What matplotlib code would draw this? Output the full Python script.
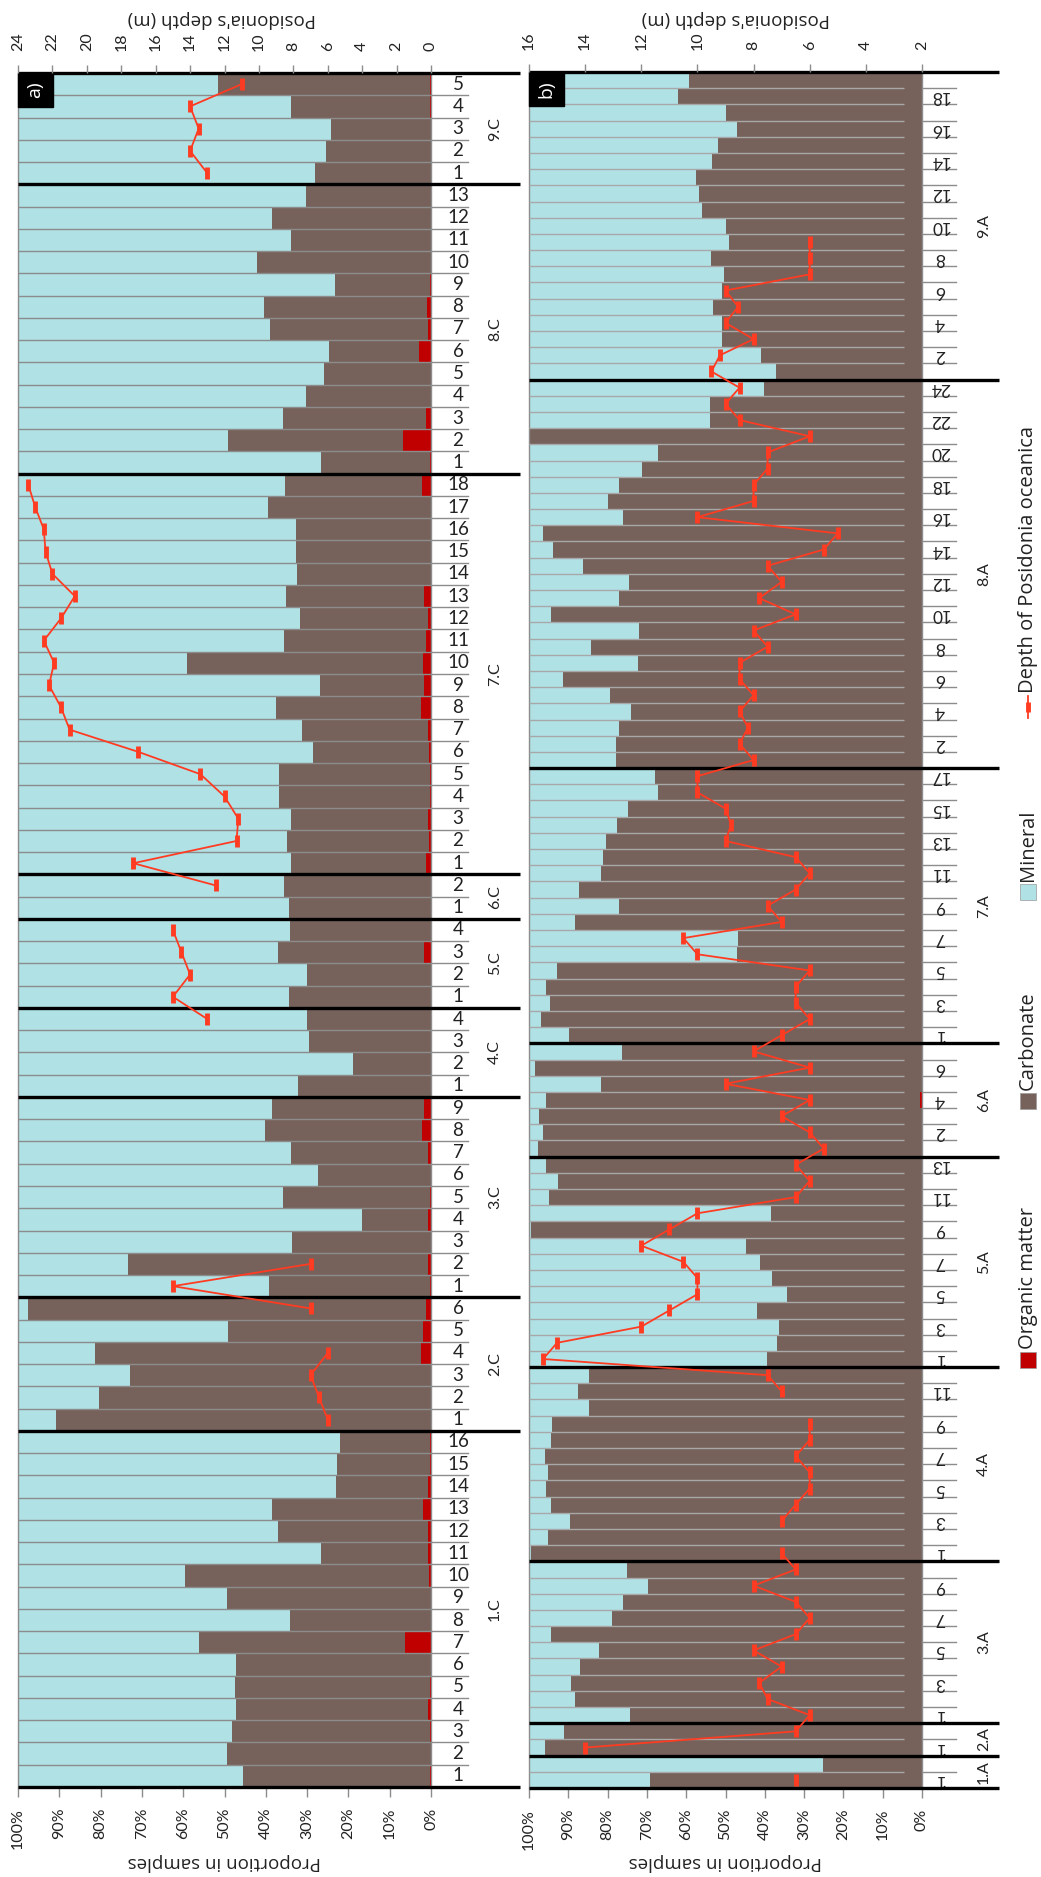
import numpy as np
import matplotlib.pyplot as plt
from matplotlib.patches import Rectangle
from matplotlib.lines import Line2D

plt.rcParams['font.family'] = ['Lato', 'DejaVu Sans']

W, H = 1041, 1877
MINERAL = '#B0E1E5'
CARBON = '#76625A'
ORGANIC = '#C00000'
DEPTH = '#FF3B22'
GRAY = '#8C8C8C'
TXT = '#222222'
SANS = ['Open Sans', 'DejaVu Sans']

# ---------------- panel a) : sites .C ----------------
groups_a = ['1.C', '2.C', '3.C', '4.C', '5.C', '6.C', '7.C', '8.C', '9.C']
sizes_a = [16, 6, 9, 4, 4, 2, 18, 13, 5]
organic_a = [0.3, 0, 0.3, 0.8, 0.3, 0, 6.3, 0, 0, 0.6, 0.8, 0.8, 1.9, 0.8, 0.3, 0.3,   # 1.C
             0, 0, 0, 2.4, 2.0, 1.2,                                                 # 2.C
             0.3, 0.8, 0, 0.8, 0.3, 0, 0.8, 2.1, 1.7,                                # 3.C
             0, 0, 0, 0,                                                             # 4.C
             0, 0, 1.6, 0,                                                           # 5.C
             0, 0,                                                                   # 6.C
             1.3, 0.5, 0.8, 0.3, 0.3, 0.5, 0.8, 2.4, 1.7, 2.0, 1.2, 0.8, 1.7, 0, 0, 0, 0, 2.3,  # 7.C
             0.3, 6.7, 1.2, 0, 0, 2.9, 0.8, 1.0, 0.2, 0, 0, 0, 0,                    # 8.C
             0, 0, 0, 0.3, 0.3]                                                      # 9.C
carbonate_a = [45.2, 49.5, 47.8, 46.3, 47.2, 47.3, 49.9, 34.2, 49.3, 58.9, 25.9, 36.2, 36.5, 22.1, 22.4, 21.8,
               90.7, 80.5, 72.9, 78.9, 47.1, 96.4,
               39.0, 72.5, 33.6, 16.0, 35.5, 27.3, 33.2, 38.1, 36.9,
               32.1, 18.8, 29.5, 30.1,
               34.4, 30.0, 35.4, 34.2,
               34.3, 35.5,
               32.5, 34.3, 33.2, 36.5, 36.5, 28.0, 30.4, 35.2, 25.2, 57.0, 34.3, 30.9, 33.5, 32.4, 32.7, 32.6, 39.4, 33.1,
               26.4, 42.4, 34.7, 30.3, 25.9, 21.8, 38.1, 39.4, 23.1, 42.2, 33.9, 38.6, 30.3,
               28.1, 25.4, 24.2, 33.7, 51.2]
mineral_a = [54.5, 50.5, 51.9, 52.9, 52.5, 52.7, 43.8, 65.8, 50.7, 40.5, 73.3, 63.0, 61.6, 77.1, 77.3, 77.9,
             9.3, 19.5, 27.1, 18.7, 50.9, 2.4,
             60.7, 26.7, 66.4, 83.2, 64.2, 72.7, 66.0, 59.8, 61.4,
             67.9, 81.2, 70.5, 69.9,
             65.6, 70.0, 63.0, 65.8,
             65.7, 64.5,
             66.2, 65.2, 66.0, 63.2, 63.2, 71.5, 68.8, 62.4, 73.1, 41.0, 64.5, 68.3, 64.8, 67.6, 67.3, 67.4, 60.6, 64.6,
             73.3, 50.9, 64.1, 69.7, 74.1, 75.3, 61.1, 59.6, 76.7, 57.8, 66.1, 61.4, 69.7,
             71.9, 74.6, 75.8, 66.0, 48.5]
nan = np.nan
depth_a = [nan] * 16 + \
          [6.0, 6.5, 7.0, 6.0, nan, 7.0] + \
          [15.0, 7.0] + [nan] * 7 + \
          [nan, nan, nan, 13.0] + \
          [15.0, 14.0, 14.5, 15.0] + \
          [nan, 12.5] + \
          [17.3, 11.3, 11.2, 12.0, 13.4, 17.0, 21.0, 21.5, 22.2, 21.9, 22.5, 21.5, 20.7, 22.0, 22.4, 22.5, 23.0, 23.4] + \
          [nan] * 13 + \
          [13.0, 14.0, 13.5, 14.0, 11.0]

# ---------------- panel b) : sites .A ----------------
groups_b = ['1.A', '2.A', '3.A', '4.A', '5.A', '6.A', '7.A', '8.A', '9.A']
sizes_b = [2, 2, 10, 12, 13, 7, 17, 24, 19]
organic_b = [0] * 39 + [0, 0, 0, 0.5, 0, 0, 0] + [0] * 60
carbonate_b = [69.3, 25.2,
               96.0, 91.0,
               74.2, 88.3, 89.4, 87.0, 82.2, 94.3, 78.8, 76.0, 69.7, 75.0,
               99.4, 95.1, 89.6, 94.3, 95.6, 95.1, 96.0, 94.3, 94.1, 84.8, 87.6, 84.8,
               39.5, 36.9, 36.5, 41.9, 34.4, 38.2, 41.3, 44.7, 99.4, 38.5, 94.9, 92.5, 95.8,
               97.8, 96.5, 97.4, 95.3, 81.7, 98.4, 76.3,
               89.7, 96.9, 94.7, 95.6, 92.9, 47.0, 46.8, 88.3, 77.2, 87.2, 81.7, 81.2, 80.4, 77.5, 74.8, 67.3, 68.0,
               77.8, 77.8, 77.1, 74.1, 79.3, 91.4, 72.2, 84.1, 71.9, 94.5, 77.1, 74.6, 86.3, 93.8, 96.5, 76.2,
               80.0, 77.1, 71.3, 67.2, 100.0, 53.9, 53.9, 40.2,
               37.1, 41.0, 50.8, 51.0, 53.2, 51.0, 50.3, 53.7, 49.2, 50.0, 56.0, 56.8, 57.5, 53.5, 51.9, 47.2,
               50.0, 62.0, 59.4]
mineral_b = [30.7, 74.8,
             4.0, 9.0,
             25.8, 11.7, 10.6, 13.0, 17.8, 5.7, 21.2, 24.0, 30.3, 25.0,
             0.6, 4.9, 10.4, 5.7, 4.4, 4.9, 4.0, 5.7, 5.9, 15.2, 12.4, 15.2,
             60.5, 63.1, 63.5, 58.1, 65.6, 61.8, 58.7, 55.3, 0.6, 61.5, 5.1, 7.5, 4.2,
             2.2, 3.5, 2.6, 4.2, 18.3, 1.6, 23.7,
             10.3, 3.1, 5.3, 4.4, 7.1, 53.0, 53.2, 11.7, 22.8, 12.8, 18.3, 18.8, 19.6, 22.5, 25.2, 32.7, 32.0,
             22.2, 22.2, 22.9, 25.9, 20.7, 8.6, 27.8, 15.9, 28.1, 5.5, 22.9, 25.4, 13.7, 6.2, 3.5, 23.8,
             20.0, 22.9, 28.7, 32.8, 0.0, 46.1, 46.1, 59.8,
             62.9, 59.0, 49.2, 49.0, 46.8, 49.0, 49.7, 46.3, 50.8, 50.0, 44.0, 43.2, 42.5, 46.5, 48.1, 52.8,
             50.0, 38.0, 40.6]
depth_b = [6.5, nan,
           14.0, 6.5,
           6.0, 7.5, 7.8, 7.0, 8.0, 6.5, 6.0, 6.5, 8.0, 6.5,
           7.0, nan, 7.0, 6.5, 6.0, 6.0, 6.5, 6.0, 6.0, nan, 7.0, 7.5,
           15.5, 15.0, 12.0, 11.0, 10.0, 10.0, 10.5, 12.0, 11.0, 10.0, 6.5, 6.0, 6.5,
           5.5, 6.0, 7.0, 6.0, 9.0, 6.0, 8.0,
           7.0, 6.0, 6.5, 6.5, 6.0, 10.0, 10.5, 7.0, 7.5, 6.5, 6.0, 6.5, 9.0, 8.8, 9.0, 10.0, 10.0,
           8.0, 8.5, 8.2, 8.5, 8.0, 8.5, 8.5, 7.5, 8.0, 6.5, 7.8, 7.0, 7.5, 5.5, 5.0, 10.0,
           8.0, 8.0, 7.5, 7.5, 6.0, 8.5, 9.0, 8.5,
           9.5, 9.2, 8.0, 9.0, 8.55, 9.0, 6.0, 6.0, 6.0] + [nan] * 10

pct_ticks = list(range(0, 101, 10))

fig = plt.figure(figsize=(W / 100, H / 100), dpi=100)


def panel(rect, names, sizes, org, carb, mineral, depth, dlim, tag,
          lab_rot, lab_step, lab_fs, offs, line_to, line_col, title_x):
    x0, y0, x1, y1 = rect
    pw, ph = x1 - x0, y1 - y0
    ax = fig.add_axes([x0 / W, 1 - y1 / H, pw / W, ph / H])
    n = len(org)
    pos = np.arange(n)
    ax.barh(pos, org, height=1.0, color=ORGANIC, lw=0)
    ax.barh(pos, carb, left=org, height=1.0, color=CARBON, lw=0)
    ax.barh(pos, mineral, left=np.add(org, carb), height=1.0, color=MINERAL, lw=0)
    ax.hlines(pos[:-1] + 0.5, 100, line_to, color=line_col, lw=1.0, zorder=3)
    ax.set_xlim(100, 0)
    ax.set_ylim(-0.5, n - 0.5)
    ax.set_yticks([])
    ax.set_xticks(pct_ticks)
    ax.set_xticklabels([f'{v}%' for v in pct_ticks], rotation=90)
    ax.tick_params(axis='x', length=7, width=1, color=GRAY, pad=8,
                   labelsize=11.5, labelcolor=TXT)
    for s in ['top', 'bottom']:
        ax.spines[s].set_visible(False)
    for s in ['left', 'right']:
        ax.spines[s].set_color(GRAY)
        ax.spines[s].set_linewidth(1.0)

    # secondary axis: depth of Posidonia
    ax2 = ax.twiny()
    ax2.set_xlim(*dlim)
    ax2.set_xticks(np.arange(dlim[1], dlim[0] + 0.1, 2))
    ax2.tick_params(axis='x', length=6, width=1, color=GRAY, pad=10,
                    labelsize=11.5, labelcolor=TXT, labelrotation=90)
    for s in ax2.spines.values():
        s.set_visible(False)
    ax2.plot(depth, pos, color=DEPTH, lw=1.3, marker='|', ms=9, mew=3.5,
             zorder=6, clip_on=False)

    # category axis: sample ticks, labels, site separators
    tr = ax.get_yaxis_transform()
    lab_x, tick_x, grp_x, sep_x = [1 + o / pw for o in offs]
    bounds = np.concatenate([[0], np.cumsum(sizes)]) - 0.5
    for b in pos[:-1] + 0.5:
        ax.plot([1, tick_x], [b, b], color=GRAY, lw=1.0, transform=tr, clip_on=False)
    for b in bounds:
        ax.plot([0, sep_x], [b, b], color='black', lw=2.4, transform=tr,
                clip_on=False, zorder=7, solid_capstyle='butt')
    k = 0
    for name, size in zip(names, sizes):
        start = k
        for j in range(size):
            if k % lab_step == 0:
                ax.text(lab_x, k, str(j + 1), transform=tr, ha='center', va='center',
                        rotation=lab_rot, fontsize=lab_fs, color=TXT)
            k += 1
        ax.text(grp_x, (start + k - 1) / 2, name, transform=tr, ha='center',
                va='center', rotation=90, fontsize=11.5, color=TXT)

    # panel tag
    bw, bh = 35 / pw, 34 / ph
    ax.add_patch(Rectangle((0, 1 - bh), bw, bh, transform=ax.transAxes,
                           color='black', zorder=8, clip_on=False))
    ax.text(bw / 2, 1 - bh / 2, tag, transform=ax.transAxes, color='white',
            ha='center', va='center', rotation=90, fontsize=14, zorder=9,
            family=SANS)

    fig.text(title_x / W, 1 - 19 / H, "Posidonia's depth (m)", rotation=180, ha='center',
             va='center', fontsize=13.5, color=TXT, family=SANS)
    fig.text((x0 + x1) / 2 / W, 1 - 1862 / H, 'Proportion in samples', rotation=180,
             ha='center', va='center', fontsize=13.5, color=TXT, family=SANS)
    return ax


panel((18, 73, 431, 1787), groups_a, sizes_a, organic_a, carbonate_a, mineral_a,
      depth_a, (24, 0), 'a)', 0, 1, 13.5, (27, 37, 64, 89), 0, GRAY, 222)
panel((529, 72, 922, 1788), groups_b, sizes_b, organic_b, carbonate_b, mineral_b,
      depth_b, (16, 2), 'b)', 180, 2, 12.5, (18, 34, 62, 77), 4.7, '#A8A8A8', 736)

# legend, drawn along the right edge (rotated)
lx = 1028
legend_items = [('Organic matter', ORGANIC, 1360), ('Carbonate', CARBON, 1101),
                ('Mineral', MINERAL, 892)]
for label, col, yc in legend_items:
    fig.add_artist(Rectangle(((lx - 8) / W, 1 - (yc + 8) / H), 16 / W, 16 / H,
                             transform=fig.transFigure, fc=col, ec='#9A9A9A', lw=0.5))
    fig.text(lx / W, 1 - (yc - 11) / H, label, rotation=90, ha='center', va='bottom',
             fontsize=14.5, color=TXT, family=SANS)
fig.add_artist(Line2D([lx / W, lx / W], [1 - 718 / H, 1 - 696 / H], color=DEPTH, lw=1.3,
                      transform=fig.transFigure))
fig.add_artist(Line2D([lx / W], [1 - 707 / H], color=DEPTH, marker='|', ms=7, mew=3.5,
                      transform=fig.transFigure))
fig.text(lx / W, 1 - 693 / H, 'Depth of Posidonia oceanica', rotation=90, ha='center',
         va='bottom', fontsize=14.5, color=TXT, family=SANS)

fig.savefig('out.png', dpi=100)
